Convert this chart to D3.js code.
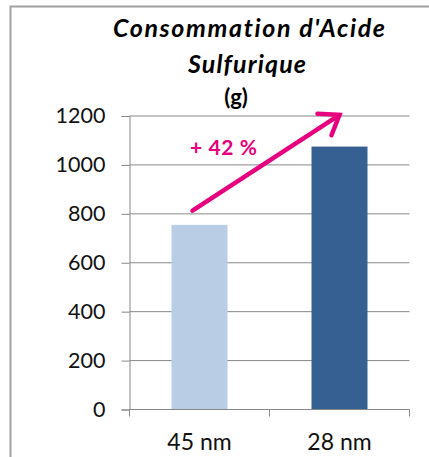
<!DOCTYPE html>
<html><head><meta charset="utf-8">
<script src="https://cdn.jsdelivr.net/npm/d3@7"></script>
<style>
html,body{margin:0;padding:0;background:#fff;}
svg{display:block;}
text{font-variant-ligatures:none;}
</style></head>
<body>
<script>
const categories = ["45 nm", "28 nm"];
const values = [755, 1075];
const barColors = ["#B9CDE5", "#376092"];
const yTicks = [0, 200, 400, 600, 800, 1000, 1200];
const titleLines = ["Consommation d'Acide", "Sulfurique"];
const unitLabel = "(g)";
const annotationText = "+ 42 %";
// arrow annotation: [category index, value]
const arrowFrom = [0, 813];
const arrowTo = [1, 1205];

(function(){
const W = 429, H = 457;
const svg = d3.select("body").append("svg").attr("width", W).attr("height", H);
const FF = "Lato, 'Open Sans', sans-serif";

svg.append("path").attr("d", `M10.5,${H+5} V6.5 H${W+5}`)
  .attr("fill","none").attr("stroke","#a0a0a0").attr("stroke-width",2);

const pLeft = 129.5, pRight = 409.5, pTop = 116, pBottom = 409.5;
const x = d3.scaleBand().domain(categories).range([pLeft, pRight]).paddingInner(0.6).paddingOuter(0.3);
const y = d3.scaleLinear().domain([0, 1200]).range([pBottom, pTop]);

const grid = "#888888";
const yAxis = d3.axisLeft(y).tickValues(yTicks).tickSize(8).tickPadding(16).tickFormat(d3.format("d"));
const gy = svg.append("g").attr("transform", `translate(${pLeft},0)`).call(yAxis);
gy.select(".domain").attr("stroke", grid);
gy.selectAll(".tick line").attr("stroke", grid);
gy.selectAll(".tick text").attr("font-family",FF).attr("font-size",21.5).attr("fill","#111");
svg.append("g").selectAll("line").data(yTicks.filter(d=>d>0)).join("line")
  .attr("x1", pLeft).attr("x2", pRight).attr("y1", d=>y(d)).attr("y2", d=>y(d))
  .attr("stroke", grid).attr("stroke-width",1);

svg.append("g").selectAll("rect").data(values).join("rect")
  .attr("x", (d,i)=>x(categories[i])).attr("width", x.bandwidth())
  .attr("y", d=>y(d)).attr("height", d=>y(0)-y(d))
  .attr("fill", (d,i)=>barColors[i]);

const step = (pRight-pLeft)/categories.length;
const gx = svg.append("g");
gx.append("line").attr("x1", pLeft).attr("x2", pRight).attr("y1", pBottom).attr("y2", pBottom).attr("stroke", grid);
const tickXs = d3.range(categories.length+1).map(i=>pLeft+i*step);
gx.selectAll("line.t").data(tickXs).join("line").attr("class","t")
  .attr("x1", d=>d).attr("x2", d=>d).attr("y1", pBottom).attr("y2", pBottom+7).attr("stroke", grid);
gx.selectAll("text").data(categories).join("text")
  .attr("x", d=>x(d)+x.bandwidth()/2).attr("y", 450)
  .attr("text-anchor","middle").attr("font-family",FF).attr("font-size",23).attr("fill","#111")
  .text(d=>d);

const title = svg.append("g").attr("font-family",FF).attr("font-weight","bold").attr("fill","#000");
const tw = [272, 118];
title.selectAll("text.tl").data(titleLines).join("text").attr("class","tl")
  .attr("x", (d,i)=>[113,188][i]).attr("y",(d,i)=>37+i*35.5)
  .attr("font-style","italic").attr("font-size",25)
  .attr("textLength",(d,i)=>tw[i]).attr("lengthAdjust","spacing").text(d=>d);
title.append("text").attr("x",236).attr("y",105).attr("text-anchor","middle").attr("font-size",22).text(unitLabel);

const mag = "#E6007E";
const p0 = [x(categories[arrowFrom[0]]) + x.bandwidth()/2 - 7, y(arrowFrom[1])];
const p1 = [x(categories[arrowTo[0]]) + x.bandwidth()/2, y(arrowTo[1])];
svg.append("line").attr("x1",p0[0]).attr("y1",p0[1]).attr("x2",p1[0]-3).attr("y2",p1[1]+2)
  .attr("stroke",mag).attr("stroke-width",4.5).attr("stroke-linecap","round");
const ang = Math.atan2(p1[1]-p0[1], p1[0]-p0[0]);
const L = 22, spread = 0.62;
const a1 = [p1[0]-L*Math.cos(ang-spread), p1[1]-L*Math.sin(ang-spread)];
const a2 = [p1[0]-L*Math.cos(ang+spread), p1[1]-L*Math.sin(ang+spread)];
svg.append("path").attr("d",`M${a1[0]},${a1[1]} L${p1[0]},${p1[1]} L${a2[0]},${a2[1]}`)
  .attr("fill","none").attr("stroke",mag).attr("stroke-width",4.5).attr("stroke-linecap","round").attr("stroke-linejoin","miter");
svg.append("text").attr("x",190).attr("y",155).attr("font-family",FF)
  .attr("font-weight","bold").attr("font-size",21).attr("fill",mag)
  .attr("textLength",67).attr("lengthAdjust","spacing").text(annotationText);
})();
</script>
</body></html>
